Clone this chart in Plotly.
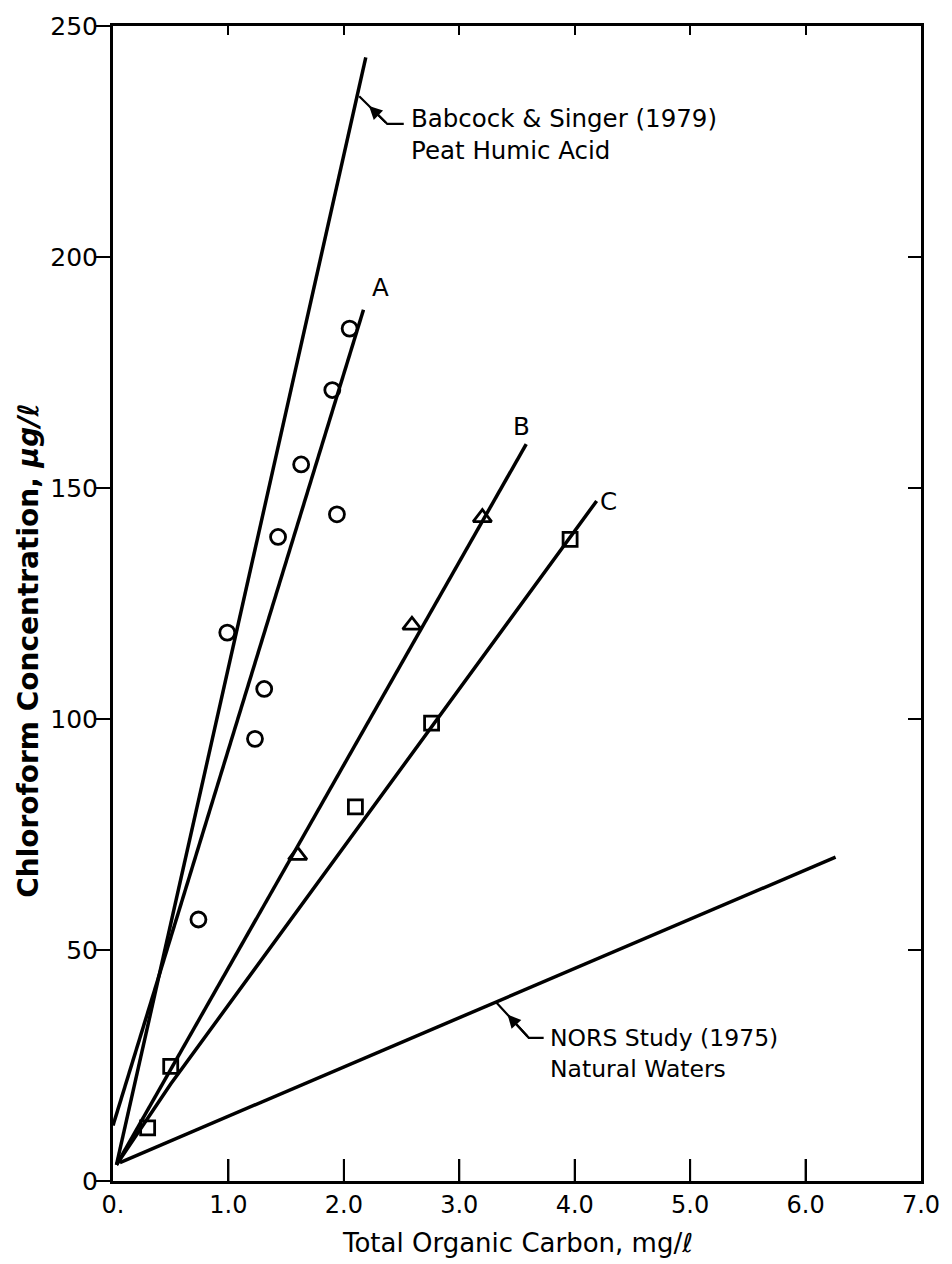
import plotly.graph_objects as go

# Measured points: chloroform formed vs. total organic carbon
a_toc = [0.74, 0.99, 1.23, 1.31, 1.43, 1.63, 1.94, 1.90, 2.05]
a_chcl3 = [56.6, 118.7, 95.7, 106.5, 139.4, 155.1, 144.3, 171.2, 184.5]

b_toc = [1.60, 2.59, 3.20]
b_chcl3 = [70.5, 120.3, 143.6]

c_toc = [0.30, 0.50, 2.10, 2.76, 3.96]
c_chcl3 = [11.5, 24.8, 81.0, 99.1, 138.9]

# Fitted / literature lines (end points)
babcock_x = [0.03, 2.19]
babcock_y = [3.5, 243.2]
line_a_x = [0.0, 2.17]
line_a_y = [12.0, 188.6]
line_b_x = [0.03, 3.58]
line_b_y = [3.5, 159.5]
line_c_x = [0.03, 0.50, 4.19]
line_c_y = [3.5, 21.0, 147.2]
nors_x = [0.06, 6.26]
nors_y = [4.0, 70.1]

# Leader lines for the two literature labels
babcock_leader_x = [2.133, 2.376, 2.519]
babcock_leader_y = [234.8, 228.8, 228.8]
nors_leader_x = [3.319, 3.602, 3.731]
nors_leader_y = [38.7, 31.0, 31.0]

x_ticks = [0, 1, 2, 3, 4, 5, 6, 7]
x_tick_text = ["0.", "1.0", "2.0", "3.0", "4.0", "5.0", "6.0", "7.0"]
x_inner_ticks = [1, 2, 3, 4, 5, 6]
y_ticks = [0, 50, 100, 150, 200, 250]
y_inner_ticks = [50, 100, 150, 200]

FONT = "DejaVu Sans"
INK = "black"

fig = go.Figure()

for xs, ys in [(babcock_x, babcock_y), (line_a_x, line_a_y), (line_b_x, line_b_y),
               (line_c_x, line_c_y), (nors_x, nors_y)]:
    fig.add_trace(go.Scatter(x=xs, y=ys, mode="lines",
                             line=dict(color=INK, width=3.5),
                             showlegend=False, hoverinfo="skip"))

for xs, ys in [(babcock_leader_x, babcock_leader_y), (nors_leader_x, nors_leader_y)]:
    fig.add_trace(go.Scatter(x=xs, y=ys, mode="lines",
                             line=dict(color=INK, width=2.2),
                             showlegend=False, hoverinfo="skip"))

marker_line = dict(color=INK, width=2.8)
fig.add_trace(go.Scatter(x=a_toc, y=a_chcl3, mode="markers", showlegend=False,
                         marker=dict(symbol="circle-open", size=15, color=INK, line=marker_line)))
fig.add_trace(go.Scatter(x=b_toc, y=b_chcl3, mode="markers", showlegend=False,
                         marker=dict(symbol="triangle-up-open", size=16, color=INK, line=marker_line)))
fig.add_trace(go.Scatter(x=c_toc, y=c_chcl3, mode="markers", showlegend=False,
                         marker=dict(symbol="square-open", size=14, color=INK, line=marker_line)))

# helper trace so the tick-only overlay axes (top, right) are drawn
fig.add_trace(go.Scatter(x=[0], y=[0], xaxis="x2", yaxis="y2", mode="markers",
                         marker=dict(opacity=0), showlegend=False, hoverinfo="skip"))

annotations = []
# arrow heads on the leader lines
for lx, ly in [(babcock_leader_x, babcock_leader_y), (nors_leader_x, nors_leader_y)]:
    annotations.append(dict(x=lx[0] + 0.35 * (lx[1] - lx[0]), y=ly[0] + 0.35 * (ly[1] - ly[0]),
                            ax=lx[1], ay=ly[1], xref="x", yref="y", axref="x", ayref="y",
                            text="", showarrow=True, arrowhead=2, arrowsize=1.2,
                            arrowwidth=2.2, arrowcolor=INK))

label_font = dict(family=FONT, size=24.5, color=INK)
annotations += [
    dict(x=2.56, y=226.5, xref="x", yref="y", xanchor="left", yanchor="middle", align="left",
         text="Babcock & Singer (1979)<br>Peat Humic Acid", showarrow=False, font=label_font),
    dict(x=3.77, y=27.6, xref="x", yref="y", xanchor="left", yanchor="middle", align="left",
         text="NORS Study (1975)<br>Natural Waters", showarrow=False,
         font=dict(family=FONT, size=23.5, color=INK)),
    dict(x=2.32, y=193.3, xref="x", yref="y", text="A", showarrow=False, font=label_font),
    dict(x=3.54, y=163.4, xref="x", yref="y", text="B", showarrow=False, font=label_font),
    dict(x=4.29, y=147.1, xref="x", yref="y", text="C", showarrow=False, font=label_font),
    dict(x=0.5006, y=-0.0534, xref="paper", yref="paper", xanchor="center", yanchor="middle",
         text="Total Organic Carbon, mg/ℓ", showarrow=False,
         font=dict(family=FONT, size=26, color=INK)),
    dict(x=-0.104, y=0.459, xref="paper", yref="paper", xanchor="center", yanchor="middle",
         textangle=-90, text="<b>Chloroform Concentration, <i>μg/ℓ</i></b>", showarrow=False,
         font=dict(family=FONT, size=28, color=INK)),
]

# long inward tick marks rising from the bottom axis at each labelled value
tick_shapes = [
    dict(type="line", xref="x", yref="y", ysizemode="pixel", yanchor=0,
         x0=t, x1=t, y0=0, y1=22, line=dict(color=INK, width=2), layer="above")
    for t in x_inner_ticks
]

no_grid = dict(showgrid=False, zeroline=False)

fig.update_layout(
    width=952, height=1264,
    margin=dict(l=113, r=22, t=20, b=83),
    paper_bgcolor="white", plot_bgcolor="white",
    showlegend=False,
    annotations=annotations,
    shapes=tick_shapes,
    xaxis=dict(range=[0, 7], tickvals=x_ticks, ticktext=x_tick_text,
               ticks="inside", ticklen=22, tickwidth=2, tickcolor=INK,
               showline=True, linewidth=3, linecolor=INK, mirror=True,
               tickfont=dict(family=FONT, size=24, color=INK), **no_grid),
    yaxis=dict(range=[0, 250], tickvals=y_ticks,
               ticks="outside", ticklen=14, tickwidth=2, tickcolor=INK,
               showline=True, linewidth=3, linecolor=INK, mirror=True,
               ticklabelstandoff=-7,
               tickfont=dict(family=FONT, size=25, color=INK), **no_grid),
    # short inward ticks along the top edge
    xaxis2=dict(range=[0, 7], overlaying="x", side="top", anchor="y2",
                tickvals=x_inner_ticks, ticks="inside", ticklen=9, tickwidth=2,
                tickcolor=INK, showticklabels=False, showline=False, **no_grid),
    # inward ticks along the right edge
    yaxis2=dict(range=[0, 250], overlaying="y", side="right", anchor="x2",
                tickvals=y_inner_ticks, ticks="inside", ticklen=13, tickwidth=2,
                tickcolor=INK, showticklabels=False, showline=False, **no_grid),
)

fig.write_html("out.html")
